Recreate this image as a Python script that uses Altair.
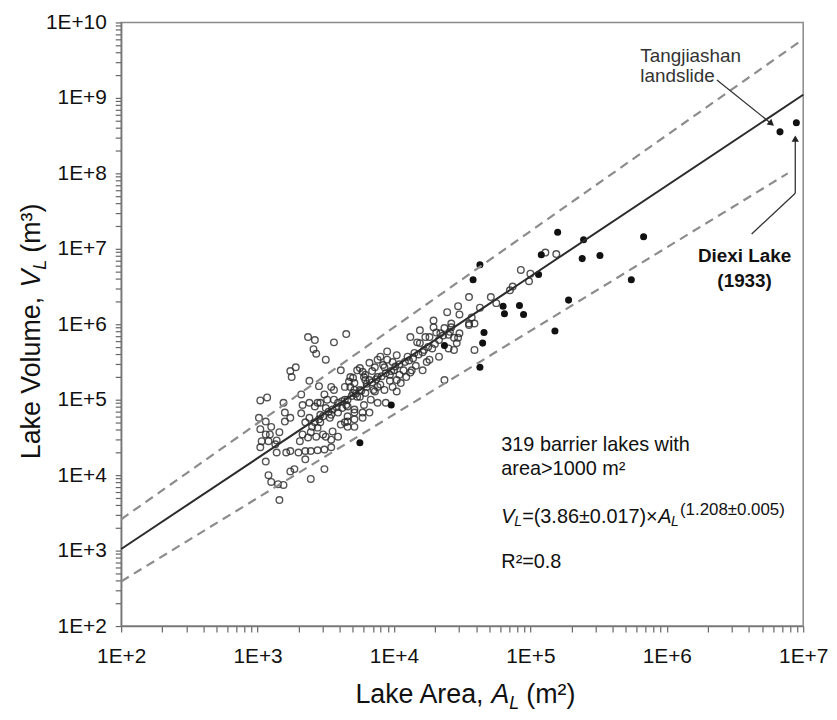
import altair as alt
import pandas as pd

FONT = "Liberation Sans"

# ---- data (log10 values) ----
open_logA = [
    3.37, 3.42, 3.56, 3.65, 3.41, 3.43, 3.50, 3.24, 3.28, 3.25,
    3.38, 3.61, 3.02, 3.07, 3.19, 3.32, 3.45, 3.54, 3.01, 3.06,
    3.10, 3.02, 3.03, 3.02, 3.09, 3.16, 3.13, 3.14, 3.06, 3.21,
    3.24, 3.30, 3.35, 3.39, 3.44, 3.49, 3.54, 3.24, 3.27, 3.39,
    3.49, 3.08, 3.10, 3.15, 3.19, 3.16, 3.20, 3.24, 3.20, 3.32,
    3.38, 3.46, 3.33, 3.42, 3.39, 3.43, 3.48, 3.33, 3.31, 3.44,
    3.56, 3.59, 3.66, 3.66, 3.71, 3.68, 3.73, 3.77, 3.71, 3.75,
    3.56, 3.50, 3.59, 3.54, 3.79, 3.79, 3.77, 3.35, 3.49, 3.35,
    3.40, 3.46, 3.53, 3.62, 3.37, 3.50, 3.55, 3.64, 3.66, 3.71,
    3.64, 3.70, 3.67, 3.38, 3.46, 3.06, 3.08, 3.14,
    3.95, 4.12, 4.17, 4.19, 4.23, 4.29, 4.29, 4.39, 4.47, 4.48,
    4.55, 4.55, 4.42, 4.34, 4.40, 4.47, 4.44, 4.28, 4.21, 4.15,
    4.10, 4.02, 3.95, 3.90, 3.93, 3.86, 3.82, 3.75, 3.78, 3.70,
    3.88, 4.00, 4.07, 4.13, 4.21, 4.37, 4.05, 4.02, 3.99, 3.93,
    3.86, 3.80, 3.75, 3.68, 3.64, 3.51, 3.59, 3.66, 3.73, 3.88,
    3.94, 3.78, 3.71, 3.82, 3.54, 3.77, 3.61,
    5.11, 5.19, 4.93, 5.00, 4.99, 4.87, 4.85, 4.71, 4.75, 4.63,
    4.57, 4.59, 4.55, 4.37, 4.31, 4.48, 4.44, 4.59, 4.46, 4.40,
    4.26, 4.19, 4.42, 3.88, 3.82, 3.97, 4.02, 4.12, 4.26, 4.33,
    3.88, 3.71, 3.44, 3.66, 3.71, 3.83,
    3.72, 3.76, 3.80, 3.84, 3.87, 3.91, 3.94, 3.98, 4.01, 4.04,
    4.08, 4.11, 4.14, 4.18, 4.22, 4.25, 4.30, 4.33, 4.36, 4.41,
    3.69, 3.65, 3.62, 3.58, 3.55, 3.52, 3.48, 3.45, 3.42, 3.85,
    3.90, 3.97, 4.04, 4.09, 4.16, 4.24, 3.79, 3.84, 3.92, 3.99,
]
open_logV = [
    5.83, 5.79, 5.76, 5.87, 5.67, 5.61, 5.53, 5.38, 5.43, 5.30,
    5.25, 5.39, 4.99, 5.03, 4.96, 5.07, 5.18, 5.17, 4.76, 4.71,
    4.64, 4.61, 4.45, 4.37, 4.54, 4.57, 4.41, 4.30, 4.18, 4.30,
    4.32, 4.30, 4.32, 4.32, 4.33, 4.34, 4.37, 4.05, 4.08, 3.95,
    4.08, 4.00, 3.91, 3.88, 3.87, 3.67, 4.83, 4.76, 4.71, 4.82,
    4.76, 4.80, 4.93, 4.91, 4.57, 4.51, 4.54, 4.54, 4.45, 4.63,
    5.00, 4.83, 4.71, 4.64, 4.64, 5.30, 5.39, 5.37, 5.13, 5.04,
    5.13, 4.89, 4.51, 4.47, 5.26, 5.09, 4.83, 4.21, 5.07, 4.70,
    4.64, 4.70, 4.76, 4.89, 4.50, 4.51, 4.58, 4.70, 4.78, 4.74,
    5.00, 5.09, 5.24, 4.96, 4.96, 4.54, 4.45, 4.46,
    5.64, 5.83, 5.76, 5.92, 5.83, 6.05, 5.96, 6.16, 6.24, 6.13,
    6.36, 6.01, 6.01, 5.88, 5.86, 5.82, 5.66, 5.68, 5.63, 5.62,
    5.57, 5.59, 5.53, 5.57, 5.43, 5.43, 5.49, 5.42, 5.30, 5.29,
    5.30, 5.39, 5.39, 5.39, 5.39, 5.26, 5.22, 5.11, 5.17, 5.13,
    5.11, 5.17, 5.13, 5.17, 5.17, 5.00, 4.96, 5.00, 5.04, 4.96,
    4.96, 4.93, 4.87, 4.83, 4.80, 4.76, 4.67,
    6.95, 6.93, 6.72, 6.67, 6.57, 6.50, 6.45, 6.36, 6.28, 6.22,
    6.09, 6.01, 5.99, 5.95, 5.89, 5.88, 5.82, 5.66, 5.75, 5.68,
    5.83, 5.75, 5.96, 5.53, 5.26, 5.33, 5.26, 5.36, 5.53, 5.57,
    5.17, 5.22, 4.96, 4.91, 4.83, 5.00,
    5.08, 5.12, 5.21, 5.23, 5.27, 5.31, 5.35, 5.38, 5.44, 5.47,
    5.50, 5.52, 5.55, 5.60, 5.66, 5.70, 5.74, 5.79, 5.85, 5.90,
    5.05, 4.93, 4.98, 4.90, 4.87, 4.84, 4.78, 4.74, 4.70, 5.13,
    5.20, 5.25, 5.33, 5.30, 5.45, 5.50, 5.33, 5.38, 5.46, 5.50,
]
filled_logA = [3.75, 3.98, 4.37, 4.63, 4.65, 4.66, 4.58, 4.63, 4.80, 4.81,
               4.92, 4.95, 5.06, 5.08, 5.20, 5.18, 5.28, 5.38, 5.39, 5.51,
               5.74, 5.83, 6.83, 6.95]
filled_logV = [4.43, 4.93, 5.72, 5.43, 5.75, 5.89, 6.59, 6.79, 6.24, 6.14,
               6.25, 6.13, 6.66, 6.92, 7.22, 5.91, 6.32, 6.87, 7.12, 6.91,
               6.59, 7.16, 8.55, 8.67]

fit_A = [1e2, 1e7]
fit_V = [1.05e3, 1.1e9]
upper_A = [1e2, 1e7]
upper_V = [2.6e3, 6.0e9]
lower_A = [1e2, 7.7e6]
lower_V = [3.9e2, 1.0e8]

# arrows: segments (A, V) -> (A2, V2)
arrow_A = [2.33e6, 4.19e6, 8.75e6]
arrow_V = [1.73e9, 1.57e7, 5.46e7]
arrow_A2 = [5.85e6, 8.75e6, 8.75e6]
arrow_V2 = [4.55e8, 5.46e7, 2.89e8]

x_ticks = [m * 10 ** e for e in range(2, 7) for m in range(1, 10)] + [10 ** 7]
y_ticks = [m * 10 ** e for e in range(2, 10) for m in range(1, 10)] + [10 ** 10]

# ---- build tables ----
pts_open = pd.DataFrame({"A": [10 ** a for a in open_logA], "V": [10 ** v for v in open_logV]})
pts_fill = pd.DataFrame({"A": [10 ** a for a in filled_logA], "V": [10 ** v for v in filled_logV]})
dashed = pd.DataFrame({
    "A": upper_A + lower_A,
    "V": upper_V + lower_V,
    "s": ["upper"] * 2 + ["lower"] * 2,
})
solid = pd.DataFrame({"A": fit_A, "V": fit_V})
arrows = pd.DataFrame({"A": arrow_A, "V": arrow_V, "A2": arrow_A2, "V2": arrow_V2})

xs = alt.Scale(type="log", domain=[1e2, 1e7], nice=False)
ys = alt.Scale(type="log", domain=[1e2, 1e10], nice=False)

label_expr = ("abs(log(datum.value)/LN10 - round(log(datum.value)/LN10)) < 0.01 ? "
              "'1E+' + round(log(datum.value)/LN10) : ''")
common_axis = dict(labelExpr=label_expr, tickSize=6, labelFontSize=21, labelFont=FONT,
                   labelColor="#111", domainColor="#777", tickColor="#666",
                   domainWidth=1.5, tickWidth=1.2, grid=False, title="",
                   labelOverlap=False, labelFlush=False)
xaxis = alt.Axis(values=x_ticks, labelPadding=14, **common_axis)
yaxis = alt.Axis(values=y_ticks, labelPadding=9, **common_axis)


def X():
    return alt.X("A:Q", scale=xs, axis=xaxis)


def Y():
    return alt.Y("V:Q", scale=ys, axis=yaxis)


layers = []

layers.append(alt.Chart(pts_open).mark_point(
    shape="circle", filled=False, size=44, strokeWidth=1.4, color="#2a2a2a", opacity=0.8
).encode(x=X(), y=Y()))

layers.append(alt.Chart(pts_fill).mark_circle(size=50, color="#111", opacity=1).encode(x=X(), y=Y()))

layers.append(alt.Chart(dashed).mark_line(
    color="#8c8c8c", strokeWidth=2.2, strokeDash=[9, 6]
).encode(x=X(), y=Y(), detail="s:N"))

layers.append(alt.Chart(solid).mark_line(color="#2b2b2b", strokeWidth=2).encode(x=X(), y=Y()))

layers.append(alt.Chart(arrows).mark_rule(color="#333", strokeWidth=1.3).encode(
    x=X(), y=Y(), x2="A2:Q", y2="V2:Q"))

layers.append(alt.Chart(pd.DataFrame({"A": [5.85e6], "V": [4.55e8]})).mark_point(
    shape="triangle-up", filled=True, size=55, color="#222", opacity=1, angle=129
).encode(x=X(), y=Y()))
layers.append(alt.Chart(pd.DataFrame({"A": [8.75e6], "V": [2.89e8]})).mark_point(
    shape="triangle-up", filled=True, size=55, color="#222", opacity=1
).encode(x=X(), y=Y()))


def data_text(rows, **mk):
    df = pd.DataFrame(rows, columns=["A", "V", "t"])
    return alt.Chart(df).mark_text(font=FONT, **mk).encode(x=X(), y=Y(), text="t:N")


layers.append(data_text([[6.40e5, 3.55e9, "Tangjiashan"], [6.40e5, 1.95e9, "landslide"]],
                        align="left", baseline="middle", fontSize=19, color="#333"))
layers.append(data_text([[3.72e6, 8.09e6, "Diexi Lake"], [3.72e6, 3.79e6, "(1933)"]],
                        align="center", baseline="middle", fontSize=19, fontWeight="bold",
                        color="#111"))
layers.append(data_text([[6.12e4, 2.48e4, "319 barrier lakes with"],
                         [6.12e4, 1.20e4, "area>1000 m²"],
                         [6.12e4, 716, "R²=0.8"]],
                        align="left", baseline="middle", fontSize=20, color="#111"))

# formula pieces, all anchored at the same data point
formula_A, formula_V = 6.12e4, 2.80e3
pieces = [
    ("V", 20, "italic", 0, 0),
    ("L", 14, "italic", 13, 5),
    ("=(3.86±0.017)×", 20, "normal", 21, 0),
    ("A", 20, "italic", 158, 0),
    ("L", 14, "italic", 171, 5),
    ("(1.208±0.005)", 17, "normal", 180, -7),
]
for txt, fs, st, dx, dy in pieces:
    layers.append(data_text([[formula_A, formula_V, txt]], align="left", baseline="middle",
                            fontSize=fs, fontStyle=st, dx=dx, dy=dy, color="#111"))


def px_text(txt, x, y, **mk):
    return alt.Chart(pd.DataFrame({"t": [txt]})).mark_text(font=FONT, color="#111", **mk).encode(
        x=alt.value(x), y=alt.value(y), text="t:N")


# x axis title
layers.append(px_text("Lake Area,", 365, 686, align="right", baseline="alphabetic", fontSize=27))
layers.append(px_text("A", 373, 686, align="left", baseline="alphabetic", fontSize=27, fontStyle="italic"))
layers.append(px_text("L", 391, 692, align="left", baseline="alphabetic", fontSize=18, fontStyle="italic"))
layers.append(px_text("(m²)", 408, 686, align="left", baseline="alphabetic", fontSize=27))

# y axis title (rotated)
layers.append(px_text("Lake Volume,", -82, 440, align="left", baseline="alphabetic", fontSize=27, angle=270))
layers.append(px_text("V", -82, 267, align="left", baseline="alphabetic", fontSize=27, angle=270,
                      fontStyle="italic"))
layers.append(px_text("L", -76, 249, align="left", baseline="alphabetic", fontSize=18, angle=270,
                      fontStyle="italic"))
layers.append(px_text("(m³)", -82, 232, align="left", baseline="alphabetic", fontSize=27, angle=270))

chart = alt.layer(*layers).properties(
    width=687, height=608,
    autosize=alt.AutoSizeParams(type="none"),
    padding={"left": 114, "top": 12, "right": 26, "bottom": 84},
).configure_view(stroke="#8a8a8a", strokeWidth=1.5)

chart.save("out.html", embed_options={"renderer": "svg", "actions": False})
